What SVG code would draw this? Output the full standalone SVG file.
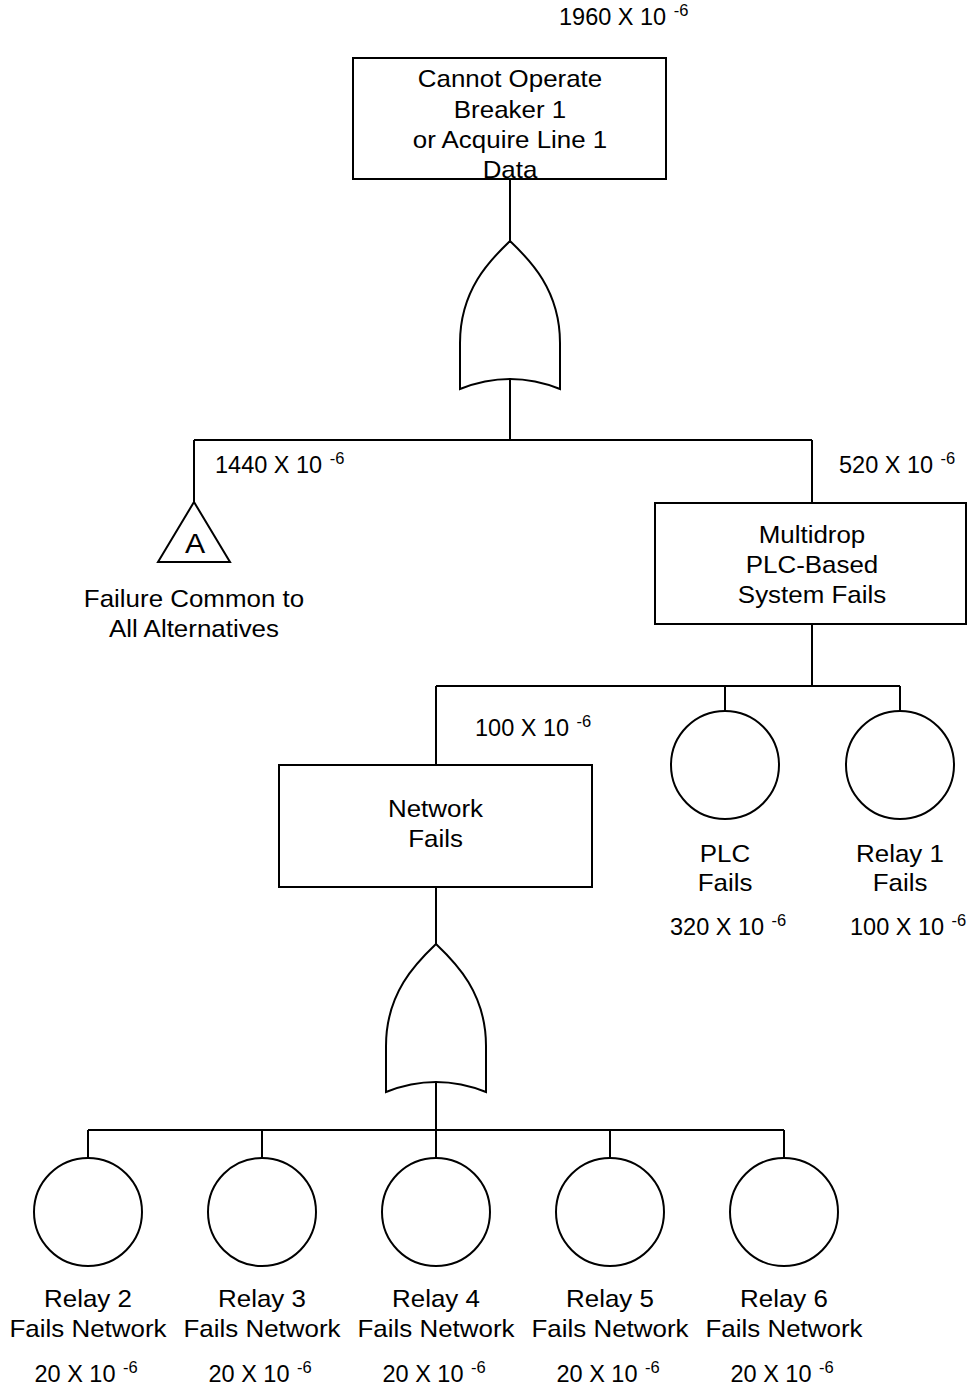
<svg xmlns="http://www.w3.org/2000/svg" xmlns:xlink="http://www.w3.org/1999/xlink" width="972" height="1388" viewBox="0 0 972 1388">
<style>
.s{fill:#fff;stroke:#000;stroke-width:2}
.ln{fill:none;stroke:#000;stroke-width:2}
text{font-family:"Liberation Sans",Arial,sans-serif;font-size:24px;fill:#000}
.c{text-anchor:middle}
.lbl{font-size:23.5px}
.sup{font-size:16.5px}
</style>
<defs>
<path id="orgate" d="M0,0 C-20,19 -50,49 -50,102 L-50,148 Q0,128 50,148 L50,102 C50,49 20,19 0,0 Z"/>
</defs>
<rect width="972" height="1388" fill="#fff"/>
<g id="connectors" class="ln">
<path d="M510,179 V241"/>
<path d="M510,379 V440 M194,440 H812 M194,440 V502 M812,440 V503"/>
<path d="M812,624 V686 M436,686 H900 M436,686 V765 M725,686 V711 M900,686 V711"/>
<path d="M436,887 V944"/>
<path d="M436,1082 V1130 M88,1130 H784 M88,1130 V1158 M262,1130 V1158 M436,1130 V1158 M610,1130 V1158 M784,1130 V1158"/>
</g>
<g id="top-event">
<rect class="s" x="353" y="58" width="313" height="121"/>
<text class="c" transform="translate(510 0) scale(1.08 1)" y="87.5">Cannot Operate</text>
<text class="c" transform="translate(510 0) scale(1.08 1)" y="118">Breaker 1</text>
<text class="c" transform="translate(510 0) scale(1.08 1)" y="148.5">or Acquire Line 1</text>
<text class="c" transform="translate(510 0) scale(1.08 1)" y="178.5">Data</text>
<text class="lbl" x="559" y="25">1960 X 10 <tspan class="sup" dx="1" dy="-9">-6</tspan></text>
</g>
<g id="or-gate-1">
<use xlink:href="#orgate" class="s" x="510" y="241"/>
</g>
<g id="transfer-A">
<path class="s" d="M194,502 L230,562 L158,562 Z"/>
<text class="c" style="font-size:28px" transform="translate(195 0) scale(1.08 1)" y="553">A</text>
<text class="c" transform="translate(194 0) scale(1.08 1)" y="607.5">Failure Common to</text>
<text class="c" transform="translate(194 0) scale(1.08 1)" y="637">All Alternatives</text>
<text class="lbl" x="215" y="473">1440 X 10 <tspan class="sup" dx="1" dy="-9">-6</tspan></text>
</g>
<g id="multidrop">
<rect class="s" x="655" y="503" width="311" height="121"/>
<text class="c" transform="translate(812 0) scale(1.08 1)" y="543">Multidrop</text>
<text class="c" transform="translate(812 0) scale(1.08 1)" y="573">PLC-Based</text>
<text class="c" transform="translate(812 0) scale(1.08 1)" y="603">System Fails</text>
<text class="lbl" x="839" y="473">520 X 10 <tspan class="sup" dx="1" dy="-9">-6</tspan></text>
</g>
<g id="network">
<rect class="s" x="279" y="765" width="313" height="122"/>
<text class="c" transform="translate(435.5 0) scale(1.08 1)" y="817">Network</text>
<text class="c" transform="translate(435.5 0) scale(1.08 1)" y="847">Fails</text>
<text class="lbl" x="475" y="736">100 X 10 <tspan class="sup" dx="1" dy="-9">-6</tspan></text>
</g>
<g id="plc">
<circle class="s" cx="725" cy="765" r="54"/>
<text class="c" transform="translate(725 0) scale(1.08 1)" y="862">PLC</text>
<text class="c" transform="translate(725 0) scale(1.08 1)" y="891">Fails</text>
<text class="lbl" x="670" y="935">320 X 10 <tspan class="sup" dx="1" dy="-9">-6</tspan></text>
</g>
<g id="relay1">
<circle class="s" cx="900" cy="765" r="54"/>
<text class="c" transform="translate(900 0) scale(1.08 1)" y="862">Relay 1</text>
<text class="c" transform="translate(900 0) scale(1.08 1)" y="891">Fails</text>
<text class="lbl" x="850" y="935">100 X 10 <tspan class="sup" dx="1" dy="-9">-6</tspan></text>
</g>
<g id="or-gate-2">
<use xlink:href="#orgate" class="s" x="436" y="944"/>
</g>
<g id="relay2">
<circle class="s" cx="88" cy="1212" r="54"/>
<text class="c" transform="translate(88 0) scale(1.08 1)" y="1307">Relay 2</text>
<text class="c" transform="translate(88 0) scale(1.08 1)" y="1337">Fails Network</text>
<text class="lbl" x="34.5" y="1382">20 X 10 <tspan class="sup" dx="1" dy="-9">-6</tspan></text>
</g>
<g id="relay3">
<circle class="s" cx="262" cy="1212" r="54"/>
<text class="c" transform="translate(262 0) scale(1.08 1)" y="1307">Relay 3</text>
<text class="c" transform="translate(262 0) scale(1.08 1)" y="1337">Fails Network</text>
<text class="lbl" x="208.5" y="1382">20 X 10 <tspan class="sup" dx="1" dy="-9">-6</tspan></text>
</g>
<g id="relay4">
<circle class="s" cx="436" cy="1212" r="54"/>
<text class="c" transform="translate(436 0) scale(1.08 1)" y="1307">Relay 4</text>
<text class="c" transform="translate(436 0) scale(1.08 1)" y="1337">Fails Network</text>
<text class="lbl" x="382.5" y="1382">20 X 10 <tspan class="sup" dx="1" dy="-9">-6</tspan></text>
</g>
<g id="relay5">
<circle class="s" cx="610" cy="1212" r="54"/>
<text class="c" transform="translate(610 0) scale(1.08 1)" y="1307">Relay 5</text>
<text class="c" transform="translate(610 0) scale(1.08 1)" y="1337">Fails Network</text>
<text class="lbl" x="556.5" y="1382">20 X 10 <tspan class="sup" dx="1" dy="-9">-6</tspan></text>
</g>
<g id="relay6">
<circle class="s" cx="784" cy="1212" r="54"/>
<text class="c" transform="translate(784 0) scale(1.08 1)" y="1307">Relay 6</text>
<text class="c" transform="translate(784 0) scale(1.08 1)" y="1337">Fails Network</text>
<text class="lbl" x="730.5" y="1382">20 X 10 <tspan class="sup" dx="1" dy="-9">-6</tspan></text>
</g>
</svg>
